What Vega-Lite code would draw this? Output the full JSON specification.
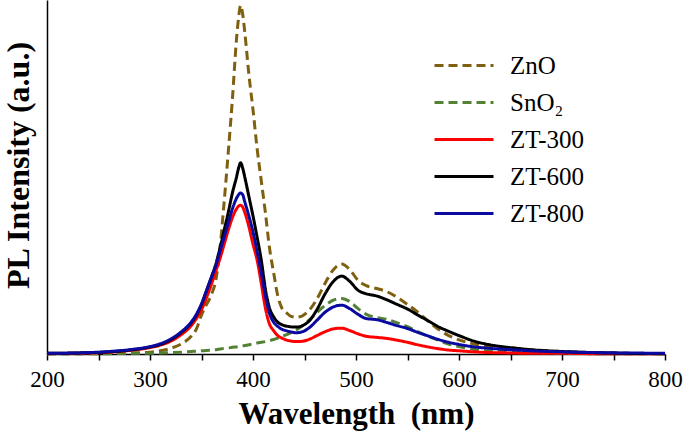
{
 "$schema": "https://vega.github.io/schema/vega-lite/v6.json",
 "width": 618, "height": 354,
 "autosize": "none",
 "padding": {"left": 47, "right": 20, "top": 0, "bottom": 84},
 "background": "white",
 "config": {"view": {"stroke": null}, "font": "Liberation Serif"},
 "data": {"values": [
  {"wl":200,"ZnO":0.001,"SnO₂":0,"ZT-300":0.001,"ZT-600":0.002,"ZT-800":0.002},
  {"wl":230,"ZnO":0.001,"SnO₂":0.001,"ZT-300":0.002,"ZT-600":0.003,"ZT-800":0.003},
  {"wl":260,"ZnO":0.002,"SnO₂":0.001,"ZT-300":0.005,"ZT-600":0.006,"ZT-800":0.007},
  {"wl":280,"ZnO":0.003,"SnO₂":0.002,"ZT-300":0.010,"ZT-600":0.011,"ZT-800":0.012},
  {"wl":300,"ZnO":0.005,"SnO₂":0.002,"ZT-300":0.018,"ZT-600":0.020,"ZT-800":0.021},
  {"wl":310,"ZnO":0.009,"SnO₂":0.003,"ZT-300":0.025,"ZT-600":0.027,"ZT-800":0.029},
  {"wl":320,"ZnO":0.016,"SnO₂":0.004,"ZT-300":0.036,"ZT-600":0.040,"ZT-800":0.042},
  {"wl":330,"ZnO":0.028,"SnO₂":0.005,"ZT-300":0.054,"ZT-600":0.060,"ZT-800":0.062},
  {"wl":340,"ZnO":0.050,"SnO₂":0.007,"ZT-300":0.080,"ZT-600":0.088,"ZT-800":0.090},
  {"wl":345,"ZnO":0.070,"SnO₂":0.008,"ZT-300":0.100,"ZT-600":0.110,"ZT-800":0.112},
  {"wl":350,"ZnO":0.110,"SnO₂":0.009,"ZT-300":0.125,"ZT-600":0.140,"ZT-800":0.142},
  {"wl":355,"ZnO":0.140,"SnO₂":0.010,"ZT-300":0.160,"ZT-600":0.180,"ZT-800":0.180},
  {"wl":360,"ZnO":0.170,"SnO₂":0.011,"ZT-300":0.200,"ZT-600":0.220,"ZT-800":0.220},
  {"wl":364,"ZnO":0.210,"SnO₂":0.012,"ZT-300":0.235,"ZT-600":0.255,"ZT-800":0.250},
  {"wl":368,"ZnO":0.300,"SnO₂":0.014,"ZT-300":0.270,"ZT-600":0.300,"ZT-800":0.290},
  {"wl":372,"ZnO":0.430,"SnO₂":0.016,"ZT-300":0.310,"ZT-600":0.350,"ZT-800":0.330},
  {"wl":376,"ZnO":0.570,"SnO₂":0.017,"ZT-300":0.350,"ZT-600":0.400,"ZT-800":0.370},
  {"wl":380,"ZnO":0.720,"SnO₂":0.019,"ZT-300":0.385,"ZT-600":0.455,"ZT-800":0.410},
  {"wl":384,"ZnO":0.890,"SnO₂":0.020,"ZT-300":0.410,"ZT-600":0.500,"ZT-800":0.440},
  {"wl":386,"ZnO":0.950,"SnO₂":0.021,"ZT-300":0.418,"ZT-600":0.525,"ZT-800":0.450},
  {"wl":388,"ZnO":0.985,"SnO₂":0.022,"ZT-300":0.420,"ZT-600":0.540,"ZT-800":0.455},
  {"wl":390,"ZnO":0.960,"SnO₂":0.023,"ZT-300":0.415,"ZT-600":0.525,"ZT-800":0.450},
  {"wl":392,"ZnO":0.910,"SnO₂":0.024,"ZT-300":0.400,"ZT-600":0.500,"ZT-800":0.430},
  {"wl":396,"ZnO":0.790,"SnO₂":0.026,"ZT-300":0.360,"ZT-600":0.445,"ZT-800":0.390},
  {"wl":400,"ZnO":0.690,"SnO₂":0.028,"ZT-300":0.310,"ZT-600":0.390,"ZT-800":0.345},
  {"wl":404,"ZnO":0.580,"SnO₂":0.031,"ZT-300":0.265,"ZT-600":0.330,"ZT-800":0.290},
  {"wl":408,"ZnO":0.490,"SnO₂":0.033,"ZT-300":0.200,"ZT-600":0.266,"ZT-800":0.230},
  {"wl":412,"ZnO":0.400,"SnO₂":0.035,"ZT-300":0.130,"ZT-600":0.185,"ZT-800":0.165},
  {"wl":416,"ZnO":0.300,"SnO₂":0.038,"ZT-300":0.085,"ZT-600":0.130,"ZT-800":0.115},
  {"wl":420,"ZnO":0.230,"SnO₂":0.041,"ZT-300":0.066,"ZT-600":0.105,"ZT-800":0.090},
  {"wl":424,"ZnO":0.165,"SnO₂":0.045,"ZT-300":0.052,"ZT-600":0.090,"ZT-800":0.078},
  {"wl":428,"ZnO":0.130,"SnO₂":0.049,"ZT-300":0.045,"ZT-600":0.083,"ZT-800":0.070},
  {"wl":432,"ZnO":0.118,"SnO₂":0.054,"ZT-300":0.040,"ZT-600":0.079,"ZT-800":0.066},
  {"wl":436,"ZnO":0.108,"SnO₂":0.059,"ZT-300":0.037,"ZT-600":0.077,"ZT-800":0.063},
  {"wl":442,"ZnO":0.104,"SnO₂":0.068,"ZT-300":0.035,"ZT-600":0.076,"ZT-800":0.060},
  {"wl":448,"ZnO":0.108,"SnO₂":0.080,"ZT-300":0.036,"ZT-600":0.080,"ZT-800":0.063},
  {"wl":455,"ZnO":0.125,"SnO₂":0.097,"ZT-300":0.042,"ZT-600":0.095,"ZT-800":0.075},
  {"wl":462,"ZnO":0.155,"SnO₂":0.117,"ZT-300":0.052,"ZT-600":0.125,"ZT-800":0.095},
  {"wl":470,"ZnO":0.200,"SnO₂":0.137,"ZT-300":0.063,"ZT-600":0.170,"ZT-800":0.118},
  {"wl":478,"ZnO":0.238,"SnO₂":0.152,"ZT-300":0.071,"ZT-600":0.205,"ZT-800":0.133},
  {"wl":486,"ZnO":0.254,"SnO₂":0.157,"ZT-300":0.073,"ZT-600":0.220,"ZT-800":0.138},
  {"wl":494,"ZnO":0.238,"SnO₂":0.148,"ZT-300":0.066,"ZT-600":0.205,"ZT-800":0.128},
  {"wl":502,"ZnO":0.208,"SnO₂":0.128,"ZT-300":0.057,"ZT-600":0.180,"ZT-800":0.112},
  {"wl":510,"ZnO":0.193,"SnO₂":0.112,"ZT-300":0.050,"ZT-600":0.170,"ZT-800":0.100},
  {"wl":520,"ZnO":0.185,"SnO₂":0.103,"ZT-300":0.047,"ZT-600":0.164,"ZT-800":0.097},
  {"wl":530,"ZnO":0.176,"SnO₂":0.098,"ZT-300":0.044,"ZT-600":0.153,"ZT-800":0.089},
  {"wl":540,"ZnO":0.160,"SnO₂":0.088,"ZT-300":0.039,"ZT-600":0.140,"ZT-800":0.080},
  {"wl":550,"ZnO":0.140,"SnO₂":0.077,"ZT-300":0.033,"ZT-600":0.127,"ZT-800":0.072},
  {"wl":560,"ZnO":0.118,"SnO₂":0.063,"ZT-300":0.026,"ZT-600":0.110,"ZT-800":0.061},
  {"wl":570,"ZnO":0.093,"SnO₂":0.050,"ZT-300":0.020,"ZT-600":0.094,"ZT-800":0.051},
  {"wl":580,"ZnO":0.070,"SnO₂":0.039,"ZT-300":0.015,"ZT-600":0.077,"ZT-800":0.041},
  {"wl":590,"ZnO":0.052,"SnO₂":0.028,"ZT-300":0.011,"ZT-600":0.064,"ZT-800":0.033},
  {"wl":600,"ZnO":0.040,"SnO₂":0.021,"ZT-300":0.009,"ZT-600":0.052,"ZT-800":0.027},
  {"wl":615,"ZnO":0.028,"SnO₂":0.013,"ZT-300":0.006,"ZT-600":0.036,"ZT-800":0.020},
  {"wl":630,"ZnO":0.021,"SnO₂":0.009,"ZT-300":0.004,"ZT-600":0.026,"ZT-800":0.016},
  {"wl":650,"ZnO":0.017,"SnO₂":0.006,"ZT-300":0.003,"ZT-600":0.018,"ZT-800":0.012},
  {"wl":670,"ZnO":0.012,"SnO₂":0.004,"ZT-300":0.002,"ZT-600":0.012,"ZT-800":0.009},
  {"wl":700,"ZnO":0.007,"SnO₂":0.002,"ZT-300":0.002,"ZT-600":0.007,"ZT-800":0.006},
  {"wl":730,"ZnO":0.004,"SnO₂":0.001,"ZT-300":0.001,"ZT-600":0.004,"ZT-800":0.004},
  {"wl":760,"ZnO":0.002,"SnO₂":0.001,"ZT-300":0.001,"ZT-600":0.002,"ZT-800":0.003},
  {"wl":800,"ZnO":0.001,"SnO₂":0,"ZT-300":0.001,"ZT-600":0.001,"ZT-800":0.002}
 ]},
 "transform": [{"fold": ["ZnO", "SnO₂", "ZT-300", "ZT-600", "ZT-800"], "as": ["series", "value"]}],
 "mark": {"type": "line", "interpolate": "monotone"},
 "encoding": {
  "x": {"field": "wl", "type": "quantitative",
   "scale": {"domain": [200, 800], "nice": false},
   "axis": {"title": "Wavelength\u00a0 (nm)", "values": [200,250,300,350,400,450,500,550,600,650,700,750,800],
    "labelExpr": "datum.value % 100 === 0 ? datum.label : ''",
    "grid": false, "tickSize": 6, "tickColor": "black", "domainColor": "black", "domainWidth": 1.5, "tickWidth": 1.5,
    "labelFont": "Liberation Serif", "labelFontSize": 23, "labelColor": "black", "labelPadding": 8, "labelOverlap": false, "labelFlush": false,
    "titleFont": "Liberation Serif", "titleFontSize": 31, "titleFontWeight": "bold", "titlePadding": 8, "titleColor": "black"}},
  "y": {"field": "value", "type": "quantitative",
   "scale": {"domain": [0, 1], "nice": false},
   "axis": {"title": "PL Intensity (a.u.)", "labels": false, "ticks": false, "grid": false,
    "domainColor": "black", "domainWidth": 1.5,
    "titleFont": "Liberation Serif", "titleFontSize": 32, "titleFontWeight": "bold", "titlePadding": 12, "titleY": 165, "titleColor": "black"}},
  "color": {"field": "series", "type": "nominal",
   "scale": {"domain": ["ZnO", "SnO₂", "ZT-300", "ZT-600", "ZT-800"], "range": ["#7f6010", "#548235", "#ff0000", "#000000", "#0a0aa0"]},
   "legend": {"title": null, "orient": "none", "legendX": 386, "legendY": 47, "padding": 0,
    "symbolType": "stroke", "symbolSize": 3481, "symbolStrokeWidth": 3.5, "clipHeight": 37,
    "labelFont": "Liberation Serif", "labelFontSize": 25, "labelColor": "black", "labelOffset": 15, "rowPadding": 0,
    "encode": {"symbols": {"update": {"strokeWidth": {"signal": "datum.value === 'ZnO' || datum.value === 'SnO₂' ? 3 : 4"}}}}}},
  "strokeDash": {"field": "series", "type": "nominal",
   "scale": {"domain": ["ZnO", "SnO₂", "ZT-300", "ZT-600", "ZT-800"], "range": [[9,5],[9,5],[1,0],[1,0],[1,0]]}},
  "strokeWidth": {"field": "series", "type": "nominal",
   "scale": {"domain": ["ZnO", "SnO₂", "ZT-300", "ZT-600", "ZT-800"], "range": [3, 3, 4, 4, 4]},
   "legend": null}
 }
}
